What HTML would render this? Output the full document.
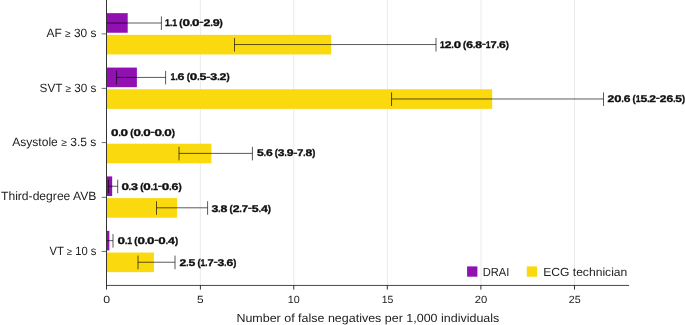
<!DOCTYPE html>
<html><head><meta charset="utf-8"><title>False negatives</title>
<style>
html,body{margin:0;padding:0;background:#fff;}
svg{display:block;font-family:"Liberation Sans",sans-serif;text-rendering:geometricPrecision;}
.cat{font-size:12px;fill:#222;}
.tk{font-size:10.4px;fill:#222;text-anchor:middle;}
.val{font-size:9.7px;font-weight:bold;fill:#111;stroke:#111;stroke-width:0.35px;}
.ax{font-size:11.8px;fill:#222;}
.lg{font-size:11.8px;fill:#222;}
</style></head><body>
<svg width="685" height="325" viewBox="0 0 685 325">
<rect width="685" height="325" fill="#fff"/>

<line x1="200.4" y1="0" x2="200.4" y2="285" stroke="#e8e8ea" stroke-width="0.9"/>
<line x1="293.75" y1="0" x2="293.75" y2="285" stroke="#e8e8ea" stroke-width="0.9"/>
<line x1="387.4" y1="0" x2="387.4" y2="285" stroke="#e8e8ea" stroke-width="0.9"/>
<line x1="481.0" y1="0" x2="481.0" y2="285" stroke="#e8e8ea" stroke-width="0.9"/>
<line x1="574.55" y1="0" x2="574.55" y2="285" stroke="#e8e8ea" stroke-width="0.9"/>
<rect x="106.55" y="13.15" width="21.15" height="19.6" fill="#9110b1"/>
<rect x="106.55" y="34.85" width="224.64" height="19.6" fill="#fad90e"/>
<rect x="106.55" y="67.57" width="30.33" height="19.6" fill="#9110b1"/>
<rect x="106.55" y="89.27" width="385.63" height="19.6" fill="#fad90e"/>
<rect x="106.55" y="143.69" width="104.83" height="19.6" fill="#fad90e"/>
<rect x="106.55" y="176.41" width="5.62" height="19.6" fill="#9110b1"/>
<rect x="106.55" y="198.11" width="70.48" height="19.6" fill="#fad90e"/>
<rect x="106.55" y="230.83" width="2.81" height="19.6" fill="#9110b1"/>
<rect x="106.55" y="252.53" width="47.36" height="19.6" fill="#fad90e"/>
<path d="M106.55 23.00H161.40M161.40 16.40V30.00" fill="none" stroke="#000" stroke-width="0.65"/>
<path d="M234.50 44.55H436.00M436.00 37.95V51.55M234.50 37.95V51.55" fill="none" stroke="#000" stroke-width="0.65"/>
<path d="M116.50 77.42H165.60M165.60 70.82V84.42M116.50 70.82V84.42" fill="none" stroke="#000" stroke-width="0.65"/>
<path d="M391.55 98.97H603.50M603.50 92.37V105.97M391.55 92.37V105.97" fill="none" stroke="#000" stroke-width="0.65"/>

<path d="M179.00 153.39H252.40M252.40 146.79V160.39M179.00 146.79V160.39" fill="none" stroke="#000" stroke-width="0.65"/>
<path d="M108.40 186.26H117.70M117.70 179.66V193.26M108.40 179.66V193.26" fill="none" stroke="#000" stroke-width="0.65"/>
<path d="M156.50 207.81H207.60M207.60 201.21V214.81M156.50 201.21V214.81" fill="none" stroke="#000" stroke-width="0.65"/>
<path d="M106.55 240.68H113.00M113.00 234.08V247.68" fill="none" stroke="#000" stroke-width="0.65"/>
<path d="M138.00 262.23H175.00M175.00 255.63V269.23M138.00 255.63V269.23" fill="none" stroke="#000" stroke-width="0.65"/>
<path d="M106.5 0V289.6" fill="none" stroke="#333" stroke-width="1"/>
<path d="M106 285.45H629" fill="none" stroke="#333" stroke-width="0.9"/>
<line x1="101.7" x2="106.5" y1="33.90" y2="33.90" stroke="#333" stroke-width="0.7"/>
<line x1="101.7" x2="106.5" y1="88.40" y2="88.40" stroke="#333" stroke-width="0.7"/>
<line x1="101.7" x2="106.5" y1="142.55" y2="142.55" stroke="#333" stroke-width="0.7"/>
<line x1="101.7" x2="106.5" y1="197.35" y2="197.35" stroke="#333" stroke-width="0.7"/>
<line x1="101.7" x2="106.5" y1="251.45" y2="251.45" stroke="#333" stroke-width="0.7"/>
<text class="tk" x="106.65" y="302.8" textLength="6.9" lengthAdjust="spacingAndGlyphs">0</text>
<line x1="200.40" x2="200.40" y1="285" y2="289.6" stroke="#333" stroke-width="1"/>
<text class="tk" x="200.25" y="302.8" textLength="6.6" lengthAdjust="spacingAndGlyphs">5</text>
<line x1="293.75" x2="293.75" y1="285" y2="289.6" stroke="#333" stroke-width="1"/>
<text class="tk" x="293.85" y="302.8" textLength="12.0" lengthAdjust="spacingAndGlyphs">10</text>
<line x1="387.30" x2="387.30" y1="285" y2="289.6" stroke="#333" stroke-width="1"/>
<text class="tk" x="387.45" y="302.8" textLength="11.6" lengthAdjust="spacingAndGlyphs">15</text>
<line x1="480.90" x2="480.90" y1="285" y2="289.6" stroke="#333" stroke-width="1"/>
<text class="tk" x="481.05" y="302.8" textLength="12.5" lengthAdjust="spacingAndGlyphs">20</text>
<line x1="574.50" x2="574.50" y1="285" y2="289.6" stroke="#333" stroke-width="1"/>
<text class="tk" x="574.65" y="302.8" textLength="11.9" lengthAdjust="spacingAndGlyphs">25</text>
<text class="cat" x="46.50" y="37.00" textLength="49.90" lengthAdjust="spacingAndGlyphs">AF <tspan font-size="10.2">≥</tspan> 30 s</text>
<text class="cat" x="39.60" y="91.50" textLength="56.80" lengthAdjust="spacingAndGlyphs">SVT <tspan font-size="10.2">≥</tspan> 30 s</text>
<text class="cat" x="12.20" y="145.65" textLength="84.20" lengthAdjust="spacingAndGlyphs">Asystole <tspan font-size="10.2">≥</tspan> 3.5 s</text>
<text class="cat" x="1.00" y="200.45" textLength="95.40" lengthAdjust="spacingAndGlyphs">Third-degree AVB</text>
<text class="cat" x="49.60" y="254.55" textLength="46.80" lengthAdjust="spacingAndGlyphs">VT <tspan font-size="10.2">≥</tspan> 10 s</text>
<text class="val" x="165.00" y="26.05"><tspan textLength="4.91" lengthAdjust="spacingAndGlyphs">1</tspan><tspan textLength="2.24" lengthAdjust="spacingAndGlyphs">.</tspan><tspan textLength="4.91" lengthAdjust="spacingAndGlyphs">1</tspan> <tspan dx="-0.56" textLength="3.21" lengthAdjust="spacingAndGlyphs">(</tspan><tspan textLength="7.48" lengthAdjust="spacingAndGlyphs">0</tspan><tspan textLength="2.24" lengthAdjust="spacingAndGlyphs">.</tspan><tspan textLength="7.48" lengthAdjust="spacingAndGlyphs">0</tspan><tspan dy="-0.7" textLength="3.85" lengthAdjust="spacingAndGlyphs">–</tspan><tspan dy="0.7" textLength="6.94" lengthAdjust="spacingAndGlyphs">2</tspan><tspan textLength="2.24" lengthAdjust="spacingAndGlyphs">.</tspan><tspan textLength="6.94" lengthAdjust="spacingAndGlyphs">9</tspan><tspan textLength="3.21" lengthAdjust="spacingAndGlyphs">)</tspan></text>
<text class="val" x="439.90" y="47.65"><tspan textLength="4.80" lengthAdjust="spacingAndGlyphs">1</tspan><tspan textLength="6.79" lengthAdjust="spacingAndGlyphs">2</tspan><tspan textLength="2.19" lengthAdjust="spacingAndGlyphs">.</tspan><tspan textLength="7.31" lengthAdjust="spacingAndGlyphs">0</tspan> <tspan dx="-0.61" textLength="3.13" lengthAdjust="spacingAndGlyphs">(</tspan><tspan textLength="6.79" lengthAdjust="spacingAndGlyphs">6</tspan><tspan textLength="2.19" lengthAdjust="spacingAndGlyphs">.</tspan><tspan textLength="6.79" lengthAdjust="spacingAndGlyphs">8</tspan><tspan dy="-0.7" textLength="3.76" lengthAdjust="spacingAndGlyphs">–</tspan><tspan dy="0.7" textLength="4.80" lengthAdjust="spacingAndGlyphs">1</tspan><tspan textLength="6.16" lengthAdjust="spacingAndGlyphs">7</tspan><tspan textLength="2.19" lengthAdjust="spacingAndGlyphs">.</tspan><tspan textLength="6.79" lengthAdjust="spacingAndGlyphs">6</tspan><tspan textLength="3.13" lengthAdjust="spacingAndGlyphs">)</tspan></text>
<text class="val" x="170.50" y="80.47"><tspan textLength="4.90" lengthAdjust="spacingAndGlyphs">1</tspan><tspan textLength="2.24" lengthAdjust="spacingAndGlyphs">.</tspan><tspan textLength="6.92" lengthAdjust="spacingAndGlyphs">6</tspan> <tspan dx="-0.57" textLength="3.19" lengthAdjust="spacingAndGlyphs">(</tspan><tspan textLength="7.45" lengthAdjust="spacingAndGlyphs">0</tspan><tspan textLength="2.24" lengthAdjust="spacingAndGlyphs">.</tspan><tspan textLength="6.92" lengthAdjust="spacingAndGlyphs">5</tspan><tspan dy="-0.7" textLength="3.83" lengthAdjust="spacingAndGlyphs">–</tspan><tspan dy="0.7" textLength="6.92" lengthAdjust="spacingAndGlyphs">3</tspan><tspan textLength="2.24" lengthAdjust="spacingAndGlyphs">.</tspan><tspan textLength="6.92" lengthAdjust="spacingAndGlyphs">2</tspan><tspan textLength="3.19" lengthAdjust="spacingAndGlyphs">)</tspan></text>
<text class="val" x="607.60" y="102.07"><tspan textLength="6.73" lengthAdjust="spacingAndGlyphs">2</tspan><tspan textLength="7.24" lengthAdjust="spacingAndGlyphs">0</tspan><tspan textLength="2.17" lengthAdjust="spacingAndGlyphs">.</tspan><tspan textLength="6.73" lengthAdjust="spacingAndGlyphs">6</tspan> <tspan dx="-0.63" textLength="3.10" lengthAdjust="spacingAndGlyphs">(</tspan><tspan textLength="4.76" lengthAdjust="spacingAndGlyphs">1</tspan><tspan textLength="6.73" lengthAdjust="spacingAndGlyphs">5</tspan><tspan textLength="2.17" lengthAdjust="spacingAndGlyphs">.</tspan><tspan textLength="6.73" lengthAdjust="spacingAndGlyphs">2</tspan><tspan dy="-0.7" textLength="3.72" lengthAdjust="spacingAndGlyphs">–</tspan><tspan dy="0.7" textLength="6.73" lengthAdjust="spacingAndGlyphs">2</tspan><tspan textLength="6.73" lengthAdjust="spacingAndGlyphs">6</tspan><tspan textLength="2.17" lengthAdjust="spacingAndGlyphs">.</tspan><tspan textLength="6.73" lengthAdjust="spacingAndGlyphs">5</tspan><tspan textLength="3.10" lengthAdjust="spacingAndGlyphs">)</tspan></text>
<text class="val" x="110.90" y="135.99"><tspan textLength="7.48" lengthAdjust="spacingAndGlyphs">0</tspan><tspan textLength="2.24" lengthAdjust="spacingAndGlyphs">.</tspan><tspan textLength="7.48" lengthAdjust="spacingAndGlyphs">0</tspan> <tspan dx="-0.56" textLength="3.21" lengthAdjust="spacingAndGlyphs">(</tspan><tspan textLength="7.48" lengthAdjust="spacingAndGlyphs">0</tspan><tspan textLength="2.24" lengthAdjust="spacingAndGlyphs">.</tspan><tspan textLength="7.48" lengthAdjust="spacingAndGlyphs">0</tspan><tspan dy="-0.7" textLength="3.85" lengthAdjust="spacingAndGlyphs">–</tspan><tspan dy="0.7" textLength="7.48" lengthAdjust="spacingAndGlyphs">0</tspan><tspan textLength="2.24" lengthAdjust="spacingAndGlyphs">.</tspan><tspan textLength="7.48" lengthAdjust="spacingAndGlyphs">0</tspan><tspan textLength="3.21" lengthAdjust="spacingAndGlyphs">)</tspan></text>
<text class="val" x="257.00" y="156.49"><tspan textLength="6.74" lengthAdjust="spacingAndGlyphs">5</tspan><tspan textLength="2.18" lengthAdjust="spacingAndGlyphs">.</tspan><tspan textLength="6.74" lengthAdjust="spacingAndGlyphs">6</tspan> <tspan dx="-0.62" textLength="3.11" lengthAdjust="spacingAndGlyphs">(</tspan><tspan textLength="6.74" lengthAdjust="spacingAndGlyphs">3</tspan><tspan textLength="2.18" lengthAdjust="spacingAndGlyphs">.</tspan><tspan textLength="6.74" lengthAdjust="spacingAndGlyphs">9</tspan><tspan dy="-0.7" textLength="3.73" lengthAdjust="spacingAndGlyphs">–</tspan><tspan dy="0.7" textLength="6.12" lengthAdjust="spacingAndGlyphs">7</tspan><tspan textLength="2.18" lengthAdjust="spacingAndGlyphs">.</tspan><tspan textLength="6.74" lengthAdjust="spacingAndGlyphs">8</tspan><tspan textLength="3.11" lengthAdjust="spacingAndGlyphs">)</tspan></text>
<text class="val" x="121.40" y="189.81"><tspan textLength="7.46" lengthAdjust="spacingAndGlyphs">0</tspan><tspan textLength="2.24" lengthAdjust="spacingAndGlyphs">.</tspan><tspan textLength="6.93" lengthAdjust="spacingAndGlyphs">3</tspan> <tspan dx="-0.57" textLength="3.20" lengthAdjust="spacingAndGlyphs">(</tspan><tspan textLength="7.46" lengthAdjust="spacingAndGlyphs">0</tspan><tspan textLength="2.24" lengthAdjust="spacingAndGlyphs">.</tspan><tspan textLength="4.90" lengthAdjust="spacingAndGlyphs">1</tspan><tspan dy="-0.7" textLength="3.84" lengthAdjust="spacingAndGlyphs">–</tspan><tspan dy="0.7" textLength="7.46" lengthAdjust="spacingAndGlyphs">0</tspan><tspan textLength="2.24" lengthAdjust="spacingAndGlyphs">.</tspan><tspan textLength="6.93" lengthAdjust="spacingAndGlyphs">6</tspan><tspan textLength="3.20" lengthAdjust="spacingAndGlyphs">)</tspan></text>
<text class="val" x="211.50" y="211.51"><tspan textLength="6.86" lengthAdjust="spacingAndGlyphs">3</tspan><tspan textLength="2.22" lengthAdjust="spacingAndGlyphs">.</tspan><tspan textLength="6.86" lengthAdjust="spacingAndGlyphs">8</tspan> <tspan dx="-0.59" textLength="3.17" lengthAdjust="spacingAndGlyphs">(</tspan><tspan textLength="6.86" lengthAdjust="spacingAndGlyphs">2</tspan><tspan textLength="2.22" lengthAdjust="spacingAndGlyphs">.</tspan><tspan textLength="6.22" lengthAdjust="spacingAndGlyphs">7</tspan><tspan dy="-0.7" textLength="3.80" lengthAdjust="spacingAndGlyphs">–</tspan><tspan dy="0.7" textLength="6.86" lengthAdjust="spacingAndGlyphs">5</tspan><tspan textLength="2.22" lengthAdjust="spacingAndGlyphs">.</tspan><tspan textLength="6.86" lengthAdjust="spacingAndGlyphs">4</tspan><tspan textLength="3.17" lengthAdjust="spacingAndGlyphs">)</tspan></text>
<text class="val" x="117.60" y="244.13"><tspan textLength="7.43" lengthAdjust="spacingAndGlyphs">0</tspan><tspan textLength="2.23" lengthAdjust="spacingAndGlyphs">.</tspan><tspan textLength="4.88" lengthAdjust="spacingAndGlyphs">1</tspan> <tspan dx="-0.57" textLength="3.18" lengthAdjust="spacingAndGlyphs">(</tspan><tspan textLength="7.43" lengthAdjust="spacingAndGlyphs">0</tspan><tspan textLength="2.23" lengthAdjust="spacingAndGlyphs">.</tspan><tspan textLength="7.43" lengthAdjust="spacingAndGlyphs">0</tspan><tspan dy="-0.7" textLength="3.82" lengthAdjust="spacingAndGlyphs">–</tspan><tspan dy="0.7" textLength="7.43" lengthAdjust="spacingAndGlyphs">0</tspan><tspan textLength="2.23" lengthAdjust="spacingAndGlyphs">.</tspan><tspan textLength="6.90" lengthAdjust="spacingAndGlyphs">4</tspan><tspan textLength="3.18" lengthAdjust="spacingAndGlyphs">)</tspan></text>
<text class="val" x="179.60" y="265.58"><tspan textLength="6.77" lengthAdjust="spacingAndGlyphs">2</tspan><tspan textLength="2.19" lengthAdjust="spacingAndGlyphs">.</tspan><tspan textLength="6.77" lengthAdjust="spacingAndGlyphs">5</tspan> <tspan dx="-0.61" textLength="3.13" lengthAdjust="spacingAndGlyphs">(</tspan><tspan textLength="4.79" lengthAdjust="spacingAndGlyphs">1</tspan><tspan textLength="2.19" lengthAdjust="spacingAndGlyphs">.</tspan><tspan textLength="6.15" lengthAdjust="spacingAndGlyphs">7</tspan><tspan dy="-0.7" textLength="3.75" lengthAdjust="spacingAndGlyphs">–</tspan><tspan dy="0.7" textLength="6.77" lengthAdjust="spacingAndGlyphs">3</tspan><tspan textLength="2.19" lengthAdjust="spacingAndGlyphs">.</tspan><tspan textLength="6.77" lengthAdjust="spacingAndGlyphs">6</tspan><tspan textLength="3.13" lengthAdjust="spacingAndGlyphs">)</tspan></text>
<rect x="467.1" y="266.4" width="10.3" height="10.3" fill="#9110b1"/>
<text class="lg" x="482.70" y="276.30" textLength="26.70" lengthAdjust="spacingAndGlyphs">DRAI</text>
<rect x="526.8" y="266.4" width="10.3" height="10.3" fill="#fad90e"/>
<text class="lg" x="543.20" y="276.30" textLength="84.10" lengthAdjust="spacingAndGlyphs">ECG technician</text>
<text class="ax" x="236.40" y="321.80" textLength="262.90" lengthAdjust="spacingAndGlyphs">Number of false negatives per 1,000 individuals</text>
</svg></body></html>
